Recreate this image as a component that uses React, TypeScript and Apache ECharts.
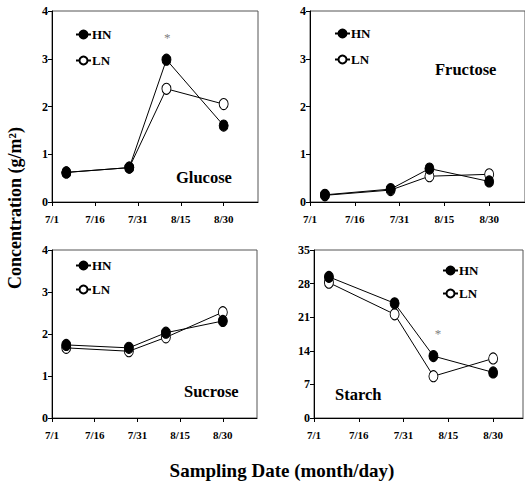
import React, { useEffect, useRef } from "react";
import * as echarts from "echarts";

const DAYS = [5, 27, 40, 60];
const X_TICKS = [0, 15, 30, 45, 60];
const X_TICK_LABELS = ["7/1", "7/16", "7/31", "8/15", "8/30"];

const GLUCOSE_HN = [0.62, 0.72, 2.98, 1.6];
const GLUCOSE_LN = [0.62, 0.72, 2.37, 2.05];
const FRUCTOSE_HN = [0.15, 0.27, 0.7, 0.43];
const FRUCTOSE_LN = [0.14, 0.25, 0.54, 0.58];
const SUCROSE_HN = [1.74, 1.67, 2.03, 2.31];
const SUCROSE_LN = [1.67, 1.59, 1.92, 2.52];
const STARCH_HN = [29.4, 23.9, 12.9, 9.5];
const STARCH_LN = [28.2, 21.6, 8.7, 12.4];

const GLUCOSE_STAR = [40.3, 3.45];
const STARCH_STAR = [41.5, 17.7];

const FONT = "'Liberation Serif', 'Times New Roman', serif";

const zip = (vals: number[]) => DAYS.map((d, i) => [d, vals[i]]);

export default function App() {
  const ref = useRef<HTMLDivElement>(null);
  useEffect(() => {
    if (!ref.current) return;
    const chart = echarts.init(ref.current, undefined, { renderer: "svg" });

    const grids = [
      { left: 52, top: 11, width: 206, height: 191 },
      { left: 310, top: 11, width: 218, height: 191 },
      { left: 52, top: 250, width: 205, height: 168 },
      { left: 314, top: 250, width: 209, height: 168 },
    ];
    const xMax = [72, 72, 72, 70];
    const yMax = [4, 4, 4, 35];
    const yInt = [1, 1, 1, 7];

    const labelText = (v: number) => {
      const i = X_TICKS.indexOf(v);
      return i >= 0 ? X_TICK_LABELS[i] : "";
    };

    const xAxis = grids.map((_, i) => ({
      type: "value",
      gridIndex: i,
      min: 0,
      max: xMax[i],
      interval: 15,
      axisLine: { show: true, lineStyle: { color: "#000", width: 1 } },
      axisTick: { show: true, length: 4, customValues: X_TICKS, lineStyle: { color: "#000" } },
      axisLabel: {
        customValues: X_TICKS,
        formatter: labelText,
        margin: 11,
        color: "#000",
        fontFamily: FONT,
        fontWeight: "bold",
        fontSize: 11,
        letterSpacing: -1,
      },
      splitLine: { show: false },
    }));

    const yAxis = grids.map((_, i) => ({
      type: "value",
      gridIndex: i,
      min: 0,
      max: yMax[i],
      interval: yInt[i],
      axisLine: { show: true, lineStyle: { color: "#000", width: 1 } },
      axisTick: { show: true, length: 4, lineStyle: { color: "#000" } },
      axisLabel: {
        margin: 4,
        color: "#000",
        fontFamily: FONT,
        fontWeight: "bold",
        fontSize: 12,
        letterSpacing: -1,
      },
      splitLine: { show: false },
    }));

    const panelData = [
      [GLUCOSE_HN, GLUCOSE_LN],
      [FRUCTOSE_HN, FRUCTOSE_LN],
      [SUCROSE_HN, SUCROSE_LN],
      [STARCH_HN, STARCH_LN],
    ];
    const stars: (number[] | null)[] = [GLUCOSE_STAR, null, null, STARCH_STAR];

    const series: any[] = [];
    panelData.forEach(([hn, ln], i) => {
      series.push({
        type: "line",
        name: "LN",
        xAxisIndex: i,
        yAxisIndex: i,
        data: zip(ln),
        symbol: "circle",
        symbolSize: [9, 11],
        lineStyle: { color: "#000", width: 1 },
        itemStyle: { color: "#fff", borderColor: "#000", borderWidth: 1 },
        z: 2,
      });
      const s: any = {
        type: "line",
        name: "HN",
        xAxisIndex: i,
        yAxisIndex: i,
        data: zip(hn),
        symbol: "circle",
        symbolSize: [9, 11],
        lineStyle: { color: "#000", width: 1 },
        itemStyle: { color: "#000", borderColor: "#000", borderWidth: 1 },
        z: 3,
      };
      const st = stars[i];
      if (st) {
        s.markPoint = {
          symbol: "circle",
          symbolSize: 1,
          itemStyle: { color: "rgba(0,0,0,0)", borderWidth: 0 },
          label: {
            show: true,
            position: "inside",
            formatter: "*",
            color: "#808080",
            fontSize: 13,
            fontFamily: FONT,
          },
          data: [{ coord: st, itemStyle: { color: "rgba(0,0,0,0)" }, label: { color: "#808080" } }],
        };
      }
      series.push(s);
    });

    const legendPos = [
      { left: 75, top: 28, itemGap: 13 },
      { left: 334, top: 27, itemGap: 13 },
      { left: 75, top: 259, itemGap: 11 },
      { left: 442, top: 264, itemGap: 10 },
    ];
    const legend = legendPos.map((p) => ({
      show: true,
      orient: "vertical",
      left: p.left,
      top: p.top,
      itemGap: p.itemGap,
      itemWidth: 15,
      itemHeight: 10,
      padding: 0,
      data: ["HN", "LN"],
      selectedMode: false,
      textStyle: {
        color: "#000",
        fontFamily: FONT,
        fontWeight: "bold",
        fontSize: 13,
        letterSpacing: -1,
        padding: [0, 0, 0, -4],
      },
    }));

    const panelLabel = (text: string, x: number, y: number) => ({
      type: "text",
      x,
      y,
      style: {
        text,
        fill: "#000",
        font: `bold 16.5px ${FONT}`,
        align: "left",
        verticalAlign: "middle",
      },
    });

    chart.setOption({
      animation: false,
      backgroundColor: "#fff",
      grid: grids.map((g) => ({ ...g, show: true, borderColor: "#555", borderWidth: 1, containLabel: false })),
      xAxis,
      yAxis,
      legend,
      series,
      graphic: [
        panelLabel("Glucose", 176, 177),
        panelLabel("Fructose", 435, 69),
        panelLabel("Sucrose", 184, 391),
        panelLabel("Starch", 335, 394),
        {
          type: "text",
          x: 15,
          y: 208,
          rotation: Math.PI / 2,
          style: {
            text: "Concentration (g/m²)",
            fill: "#000",
            font: `bold 18px ${FONT}`,
            align: "center",
            verticalAlign: "middle",
          },
        },
        {
          type: "text",
          x: 282,
          y: 470,
          style: {
            text: "Sampling Date (month/day)",
            fill: "#000",
            font: `bold 19px ${FONT}`,
            align: "center",
            verticalAlign: "middle",
          },
        },
      ],
    });
    return () => chart.dispose();
  }, []);
  return (
    <div
      ref={ref}
      style={{ position: "fixed", left: 0, top: 0, width: 525, height: 482, background: "#fff" }}
    />
  );
}
